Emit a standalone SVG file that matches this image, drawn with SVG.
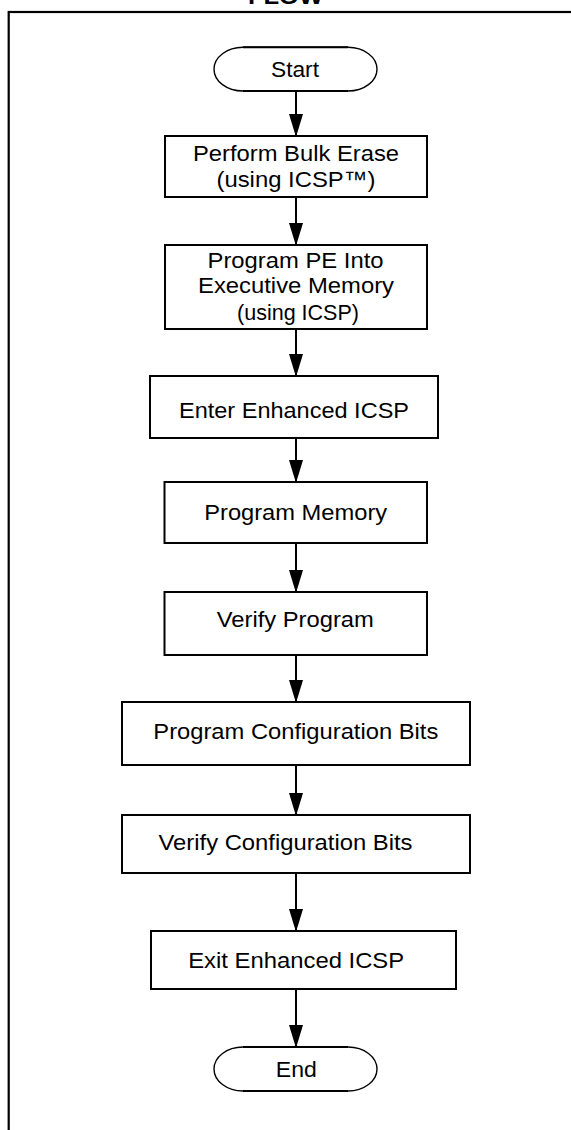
<svg xmlns="http://www.w3.org/2000/svg" width="571" height="1130" viewBox="0 0 571 1130">
<style>
.box{fill:#fff;stroke:#000;stroke-width:2}
.term{fill:#fff;stroke:#000;stroke-width:1.4}
.termline{stroke:#000;stroke-width:2}
.t{font-family:"Liberation Sans",Arial,sans-serif;font-size:22px;fill:#000;text-anchor:middle}
.title{font-family:"Liberation Sans",Arial,sans-serif;font-size:22px;font-weight:bold;fill:#000;text-anchor:middle}
.conn{stroke:#000;stroke-width:2;fill:none}
</style>
<defs>
<marker id="arr" markerUnits="userSpaceOnUse" markerWidth="23" markerHeight="14" refX="22" refY="7" viewBox="0 0 23 14" orient="auto">
<path d="M0,0 L23,7 L0,14 Z" fill="#000"/>
</marker>
</defs>
<rect width="571" height="1130" fill="#fff"/>
<text class="title" x="285.5" y="3.5" textLength="75" lengthAdjust="spacingAndGlyphs">FLOW</text>
<rect x="8.7" y="12" width="600" height="1200" fill="none" stroke="#000" stroke-width="2.2"/>

<g id="connectors">
<line class="conn" x1="296" y1="91" x2="296" y2="136" marker-end="url(#arr)"/>
<line class="conn" x1="296" y1="197" x2="296" y2="245" marker-end="url(#arr)"/>
<line class="conn" x1="296" y1="329" x2="296" y2="376" marker-end="url(#arr)"/>
<line class="conn" x1="296" y1="438" x2="296" y2="482" marker-end="url(#arr)"/>
<line class="conn" x1="296" y1="543" x2="296" y2="592" marker-end="url(#arr)"/>
<line class="conn" x1="296" y1="655" x2="296" y2="702" marker-end="url(#arr)"/>
<line class="conn" x1="296" y1="765" x2="296" y2="815" marker-end="url(#arr)"/>
<line class="conn" x1="296" y1="873" x2="296" y2="931" marker-end="url(#arr)"/>
<line class="conn" x1="296" y1="989" x2="296" y2="1047" marker-end="url(#arr)"/>
</g>

<g id="start">
<path class="term" d="M243,47.3 H348 A29,21.85 0 0 1 348,91 H243 A29,21.85 0 0 1 243,47.3 Z"/>
<line class="termline" x1="243" y1="47.3" x2="348" y2="47.3"/>
<line class="termline" x1="243" y1="91" x2="348" y2="91"/>
<text class="t" x="295" y="77.3" textLength="48" lengthAdjust="spacingAndGlyphs">Start</text>
</g>

<g id="bulk-erase">
<rect class="box" x="165" y="136" width="262" height="61"/>
<text class="t" x="296" y="160.7" textLength="206" lengthAdjust="spacingAndGlyphs">Perform Bulk Erase</text>
<text class="t" x="296" y="186.5" textLength="159" lengthAdjust="spacingAndGlyphs">(using ICSP™)</text>
</g>

<g id="program-pe">
<rect class="box" x="165" y="245" width="262" height="84"/>
<text class="t" x="295.5" y="267.7" textLength="176" lengthAdjust="spacingAndGlyphs">Program PE Into</text>
<text class="t" x="296" y="293.3" textLength="196" lengthAdjust="spacingAndGlyphs">Executive Memory</text>
<text class="t" x="298" y="319.5" textLength="122" lengthAdjust="spacingAndGlyphs">(using ICSP)</text>
</g>

<g id="enter-enhanced">
<rect class="box" x="150" y="376" width="288" height="62"/>
<text class="t" x="294" y="418" textLength="230" lengthAdjust="spacingAndGlyphs">Enter Enhanced ICSP</text>
</g>

<g id="program-memory">
<rect class="box" x="164.5" y="482" width="262.5" height="61"/>
<text class="t" x="295.7" y="520" textLength="183" lengthAdjust="spacingAndGlyphs">Program Memory</text>
</g>

<g id="verify-program">
<rect class="box" x="164.5" y="592" width="262.5" height="63"/>
<text class="t" x="295.3" y="627.3" textLength="157" lengthAdjust="spacingAndGlyphs">Verify Program</text>
</g>

<g id="program-config">
<rect class="box" x="122" y="702" width="348" height="63"/>
<text class="t" x="295.8" y="739.3" textLength="285" lengthAdjust="spacingAndGlyphs">Program Configuration Bits</text>
</g>

<g id="verify-config">
<rect class="box" x="122" y="815" width="348" height="58"/>
<text class="t" x="285.5" y="850" textLength="254" lengthAdjust="spacingAndGlyphs">Verify Configuration Bits</text>
</g>

<g id="exit-enhanced">
<rect class="box" x="151" y="931" width="305" height="58"/>
<text class="t" x="296.2" y="967.7" textLength="216" lengthAdjust="spacingAndGlyphs">Exit Enhanced ICSP</text>
</g>

<g id="end">
<path class="term" d="M243,1047 H348 A29,22 0 0 1 348,1091 H243 A29,22 0 0 1 243,1047 Z"/>
<line class="termline" x1="243" y1="1047" x2="348" y2="1047"/>
<line class="termline" x1="243" y1="1091" x2="348" y2="1091"/>
<text class="t" x="296.3" y="1076.7" textLength="41" lengthAdjust="spacingAndGlyphs">End</text>
</g>
</svg>
